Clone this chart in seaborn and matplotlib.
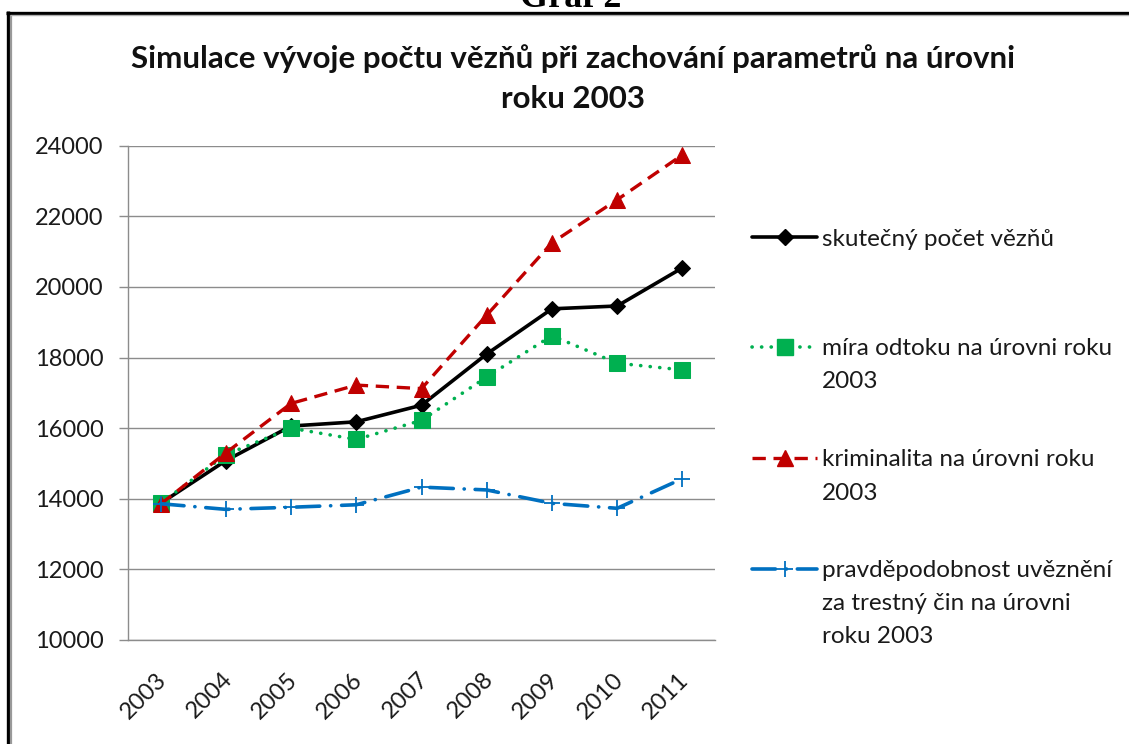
import matplotlib
matplotlib.use("Agg")
import matplotlib.pyplot as plt
from matplotlib.lines import Line2D
import matplotlib.transforms as mtransforms
import seaborn as sns
import pandas as pd

# ---- data ----
years = ["2003", "2004", "2005", "2006", "2007", "2008", "2009", "2010", "2011"]
actual = [13870, 15080, 16060, 16180, 16650, 18100, 19380, 19460, 20540]
outflow_2003 = [13870, 15250, 16000, 15680, 16220, 17450, 18620, 17840, 17650]
crime_2003 = [13850, 15300, 16700, 17220, 17120, 19200, 21250, 22470, 23740]
prob_2003 = [13860, 13700, 13760, 13830, 14330, 14250, 13870, 13730, 14570]

labels = [
    "skutečný počet vězňů",
    "míra odtoku na úrovni roku\n2003",
    "kriminalita na úrovni roku\n2003",
    "pravděpodobnost uvěznění\nza trestný čin na úrovni\nroku 2003",
]
yticks = [10000, 12000, 14000, 16000, 18000, 20000, 22000, 24000]
title = "Simulace vývoje počtu vězňů při zachování parametrů na úrovni\nroku 2003"
header = "Graf 2"

df = pd.DataFrame({"year": years, "s0": actual, "s1": outflow_2003,
                   "s2": crime_2003, "s3": prob_2003})

sns.set_style("white")
FONT = ["Lato", "DejaVu Sans"]
plt.rcParams["font.family"] = FONT

W, H = 1129, 744
fig = plt.figure(figsize=(W / 100, H / 100), dpi=100)

def fx(px):
    return px / W

def fy(py):
    return 1 - py / H

ax = fig.add_axes([fx(128), fy(640), fx(715) - fx(128), fy(145.7) - fy(640)])

GRID = "#8c8c8c"
TXT = "#1a1a1a"
styles = [
    dict(color="#000000", lw=2.6, marker="D", ms=8.5, mec="#000000", ls="-"),
    dict(color="#00B050", lw=2.6, marker="s", ms=11, mec="#00B050", ls=(0, (0.05, 2.6)),
         dash_capstyle="round"),
    dict(color="#C00000", lw=2.4, marker="^", ms=12, mec="#C00000", ls=(0, (4.0, 2.3))),
    dict(color="#0070C0", lw=2.6, marker="+", ms=12, mew=1.3, mec="#0070C0",
         ls=(0, (6.5, 3.0, 0.05, 3.0)), dash_capstyle="round"),
]
cols = ["s0", "s1", "s2", "s3"]
for c, st in zip(cols, styles):
    sns.lineplot(data=df, x="year", y=c, ax=ax, sort=False, legend=False, **st)

ax.set_xlim(-0.5, len(years) - 0.5)
ax.set_ylim(10000, 24000)
ax.set_yticks(yticks)
ax.set_yticklabels([str(v) for v in yticks])
ax.set_xlabel("")
ax.set_ylabel("")
ax.yaxis.grid(True, color=GRID, lw=1.0)
ax.xaxis.grid(False)
for s in ["top", "right"]:
    ax.spines[s].set_visible(False)
for s in ["left", "bottom"]:
    ax.spines[s].set_color(GRID)
    ax.spines[s].set_linewidth(1.0)

# x ticks: marks at category boundaries, labels at centers
ax.set_xticks(range(len(years)))
ax.set_xticklabels(years, rotation=45, ha="right", va="center", rotation_mode="anchor")
ax.set_xticks([i - 0.5 for i in range(len(years) + 1)], minor=True)
ax.tick_params(axis="x", which="major", length=0, pad=26, labelsize=17, labelcolor=TXT)
ax.tick_params(axis="x", which="minor", length=6.5, width=1.0, color=GRID, direction="out")
ax.tick_params(axis="y", which="major", length=6.5, width=1.0, color=GRID, pad=11,
               labelsize=17, labelcolor=TXT, left=True)
offset = mtransforms.ScaledTranslation(3 / 100, 0, fig.dpi_scale_trans)
for lab in ax.get_xticklabels():
    lab.set_transform(lab.get_transform() + offset)

# title
fig.text(fx(573), fy(68), title.split("\n")[0], ha="center", va="baseline",
         fontsize=22.5, fontweight="bold", color="#111111")
fig.text(fx(573), fy(108), title.split("\n")[1], ha="center", va="baseline",
         fontsize=22.5, fontweight="bold", color="#111111")

# header cut off at top
fig.text(fx(571), fy(7), header, ha="center", va="baseline", fontsize=26,
         fontweight="bold", family=["Liberation Serif", "DejaVu Serif"], color="#000000")

# frame
fig.add_artist(Line2D([fx(7.5), fx(7.5)], [fy(11), 0], color="black", lw=2.4,
                      transform=fig.transFigure, solid_capstyle="butt"))
fig.add_artist(Line2D([fx(11), fx(11)], [fy(14.5), 0], color="#999999", lw=1.6,
                      transform=fig.transFigure, solid_capstyle="butt"))
fig.add_artist(Line2D([fx(6), 1], [fy(12.5), fy(12.5)], color="black", lw=2.4,
                      transform=fig.transFigure, solid_capstyle="butt"))
fig.add_artist(Line2D([fx(10), 1], [fy(15), fy(15)], color="#b0b0b0", lw=1.0,
                      transform=fig.transFigure, solid_capstyle="butt"))

# legend (manual, handle aligned with first text line)
first_line_y = [237, 347, 458, 568.5]
for st, lab, yy in zip(styles, labels, first_line_y):
    kw = {k: v for k, v in st.items() if k not in ("marker", "ms", "mec", "mew")}
    fig.add_artist(Line2D([fx(752), fx(817)], [fy(yy), fy(yy)], transform=fig.transFigure, **kw))
    mk = dict(marker=st["marker"], ms=st["ms"], mec=st["mec"], color=st["color"],
              mew=st.get("mew", 1.0), ls="none")
    fig.add_artist(Line2D([fx(784.5)], [fy(yy)], transform=fig.transFigure, **mk))
    for j, line in enumerate(lab.split("\n")):
        fig.text(fx(822), fy(yy + j * 33), line, ha="left", va="center_baseline",
                 fontsize=17.5, color=TXT)

fig.savefig("out.png", dpi=100, facecolor="white")
